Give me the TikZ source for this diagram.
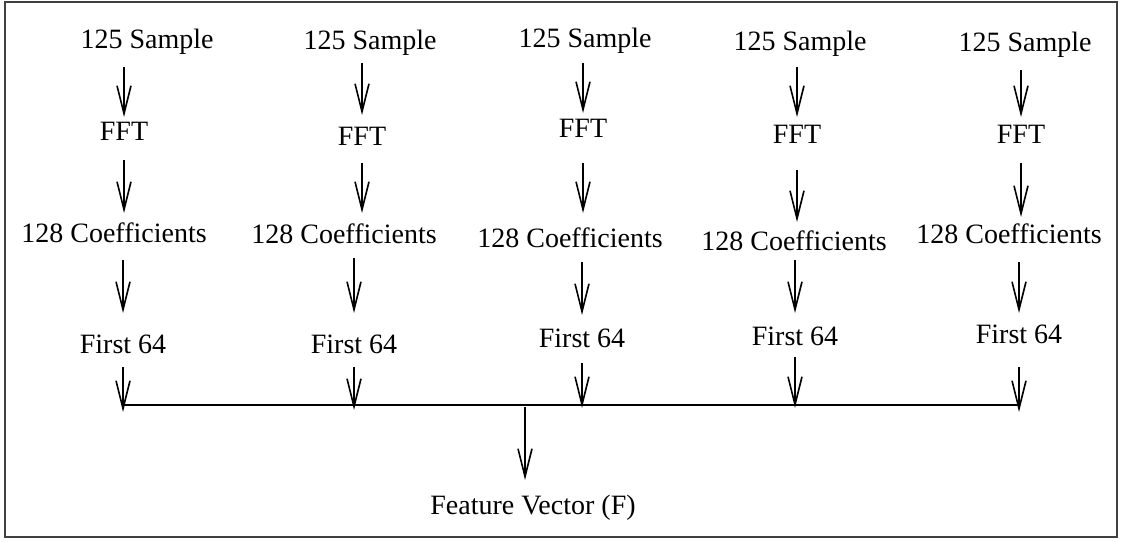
\documentclass[tikz,border=0pt]{standalone}
\usepackage{fontspec}
\setmainfont{Liberation Serif}
\usetikzlibrary{arrows.meta}
\begin{document}
\begin{tikzpicture}[x=1pt,y=-1pt,
  lbl/.style={inner sep=0pt, outer sep=0pt, anchor=base, text height=19pt, text depth=0pt, font=\fontsize{28}{34}\selectfont},
  conn/.style 2 args={-{Straight Barb[length=28pt,width=14pt]}, line width=1.6pt, shorten <=#1pt, shorten >=#2pt},
  frame/.style={draw=black!75, line width=2pt},
  bus/.style={line width=1.8pt}]
\useasboundingbox (0,0) rectangle (1121,541);
\draw[frame] (5,2) rectangle (1117,537);

% column 1
\node[lbl] (s1) at (147,48) {125 Sample};
\node[lbl] (f1) at (124,140) {FFT};
\node[lbl] (c1) at (114,242) {128 Coefficients};
\node[lbl] (p1) at (123,353) {First 64};
% column 2
\node[lbl] (s2) at (370,49) {125 Sample};
\node[lbl] (f2) at (362,145) {FFT};
\node[lbl] (c2) at (344,243) {128 Coefficients};
\node[lbl] (p2) at (354,353) {First 64};
% column 3
\node[lbl] (s3) at (585,47) {125 Sample};
\node[lbl] (f3) at (583,137) {FFT};
\node[lbl] (c3) at (570,247) {128 Coefficients};
\node[lbl] (p3) at (582,347) {First 64};
% column 4
\node[lbl] (s4) at (800,50) {125 Sample};
\node[lbl] (f4) at (797,143) {FFT};
\node[lbl] (c4) at (794,250) {128 Coefficients};
\node[lbl] (p4) at (795,345) {First 64};
% column 5
\node[lbl] (s5) at (1025,51) {125 Sample};
\node[lbl] (f5) at (1021,143) {FFT};
\node[lbl] (c5) at (1009,243) {128 Coefficients};
\node[lbl] (p5) at (1019,343) {First 64};

\node[lbl] (fv) at (533,514) {Feature Vector (F)};
\coordinate (bc) at (525,405);

% arrows column 1
\draw[conn={19}{4}] (s1.south -| f1) -- (f1.north);
\draw[conn={20}{10}] (f1.south) -- (f1.south |- c1.north);
\draw[conn={18}{21}] (c1.south -| p1) -- (p1.north);
\draw[conn={14}{-7}] (p1.south) -- (p1.south |- bc);
% arrows column 2
\draw[conn={14}{11}] (s2.south -| f2) -- (f2.north);
\draw[conn={18}{11}] (f2.south) -- (f2.south |- c2.north);
\draw[conn={15}{21}] (c2.south -| p2) -- (p2.north);
\draw[conn={14}{-5}] (p2.south) -- (p2.south |- bc);
% arrows column 3
\draw[conn={16}{5}] (s3.south -| f3) -- (f3.north);
\draw[conn={26}{15}] (f3.south) -- (f3.south |- c3.north);
\draw[conn={15}{13}] (c3.south -| p3) -- (p3.north);
\draw[conn={16}{-3}] (p3.south) -- (p3.south |- bc);
% arrows column 4
\draw[conn={17}{7}] (s4.south -| f4) -- (f4.north);
\draw[conn={27}{9}] (f4.south) -- (f4.south |- c4.north);
\draw[conn={10}{13}] (c4.south -| p4) -- (p4.north);
\draw[conn={12}{-3}] (p4.south) -- (p4.south |- bc);
% arrows column 5
\draw[conn={19}{7}] (s5.south -| f5) -- (f5.north);
\draw[conn={20}{7}] (f5.south) -- (f5.south |- c5.north);
\draw[conn={19}{11}] (c5.south -| p5) -- (p5.north);
\draw[conn={24}{-7}] (p5.south) -- (p5.south |- bc);

% bus and output
\draw[bus] (p1 |- bc) -- (p5 |- bc);
\draw[conn={2}{15}] (bc) -- (bc |- fv.north);
\end{tikzpicture}
\end{document}
